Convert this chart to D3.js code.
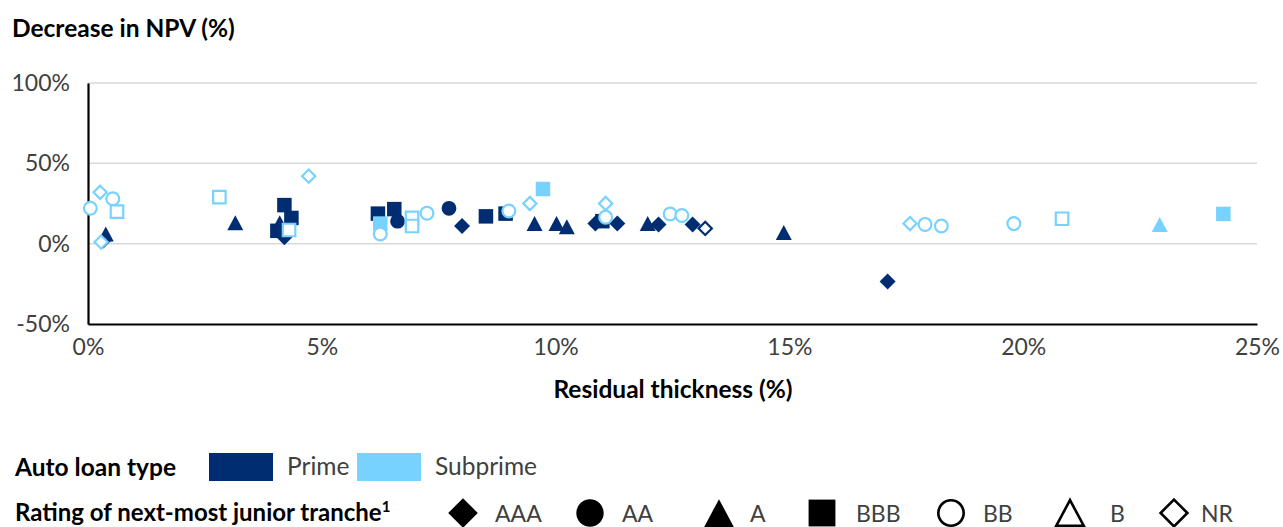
<!DOCTYPE html>
<html>
<head>
<meta charset="utf-8">
<script src="https://cdn.jsdelivr.net/npm/d3@7"></script>
<style>
  html, body { margin: 0; padding: 0; background: #fff; }
  svg { display: block; font-family: Lato, "Open Sans", sans-serif; }
</style>
</head>
<body>
<svg id="chart" width="1283" height="527"></svg>
<script>
// ---- Data (x: residual thickness %, y: decrease in NPV %) ----
const xTicks = [0, 5, 10, 15, 20, 25];
const yTicks = [-50, 0, 50, 100];
const loanTypes = ["Prime", "Subprime"];
const ratings = ["AAA", "AA", "A", "BBB", "BB", "B", "NR"];

const primeAAA = [[0.33, 2], [4.2, 4], [8.0, 11], [10.85, 12.5], [11.32, 12.5], [12.2, 12], [12.93, 12], [17.1, -23.5]];
const primeAA  = [[6.62, 14], [7.72, 22]];
const primeA   = [[0.38, 6], [3.15, 13], [4.1, 13], [9.55, 12.5], [10.02, 12.5], [10.24, 10.6], [11.97, 12.5], [14.88, 7]];
const primeBBB = [[4.2, 24], [4.35, 16], [4.05, 8], [6.2, 18.7], [6.55, 21.5], [8.51, 17], [8.93, 18.7], [11.0, 14]];
const primeNR  = [[13.2, 9.5]];

const subprimeA   = [[22.92, 12]];
const subprimeBBB = [[6.25, 12.5], [9.73, 34], [24.28, 18.5]];
const subprimeBB  = [[0.05, 22], [0.53, 28], [6.25, 6], [7.25, 19], [9.0, 20.3], [11.07, 16.5], [12.45, 18.5], [12.7, 17.5], [17.9, 12], [18.25, 11], [19.8, 12.5]];
const subprimeB   = [[0.62, 20], [2.81, 29], [4.3, 8.5], [6.93, 16], [6.93, 11], [20.83, 15.5]];
const subprimeNR  = [[0.26, 32], [0.28, 1], [4.72, 42], [9.45, 25], [11.07, 25], [17.58, 12.5]];

(function () {
// ---- Styles ----
const colors = { Prime: "#002d72", Subprime: "#78d2ff" };
const seriesList = [
  { data: primeAAA, type: "Prime", shape: "diamond", filled: true },
  { data: primeAA,  type: "Prime", shape: "circle",  filled: true },
  { data: primeA,   type: "Prime", shape: "triangle", filled: true },
  { data: primeBBB, type: "Prime", shape: "square",  filled: true },
  { data: primeNR,  type: "Prime", shape: "diamond", filled: false },
  { data: subprimeA,   type: "Subprime", shape: "triangle", filled: true },
  { data: subprimeBBB, type: "Subprime", shape: "square",  filled: true },
  { data: subprimeBB,  type: "Subprime", shape: "circle",  filled: false },
  { data: subprimeB,   type: "Subprime", shape: "square",  filled: false },
  { data: subprimeNR,  type: "Subprime", shape: "diamond", filled: false }
];

const svg = d3.select("#chart");
const mLeft = 88, mRight = 1257, mTop = 83, mBottom = 324;
const x = d3.scaleLinear().domain([0, 25]).range([mLeft, mRight]);
const y = d3.scaleLinear().domain([-50, 100]).range([mBottom, mTop]);

function symbolPath(shape, k, filled) {
  const shrink = filled ? 0 : 2;
  if (shape === "square") {
    const s = 14.5 * k - shrink; return `M${-s/2},${-s/2}H${s/2}V${s/2}H${-s/2}Z`;
  }
  if (shape === "diamond") {
    const h = 8 * k - shrink * 0.7; return `M0,${-h}L${h},0L0,${h}L${-h},0Z`;
  }
  if (shape === "triangle") {
    const w = 16 * k - shrink, hgt = 15 * k - shrink;
    return `M0,${-hgt/2}L${w/2},${hgt/2}L${-w/2},${hgt/2}Z`;
  }
  const r = 7.4 * k - shrink / 2;
  return `M${r},0A${r},${r},0,1,1,${-r},0A${r},${r},0,1,1,${r},0Z`;
}

// Gridlines
svg.append("g").selectAll("line").data([0, 50, 100]).join("line")
  .attr("x1", mLeft).attr("x2", mRight)
  .attr("y1", d => y(d)).attr("y2", d => y(d))
  .attr("stroke", "#d9d9d9").attr("stroke-width", 1.5);

// Axes
const yAxis = svg.append("g").attr("transform", `translate(${mLeft},0)`)
  .call(d3.axisLeft(y).tickValues(yTicks).tickSize(0).tickSizeOuter(0).tickPadding(18).tickFormat(d => d + "%"));
const xAxis = svg.append("g").attr("transform", `translate(0,${mBottom})`)
  .call(d3.axisBottom(x).tickValues(xTicks).tickSize(0).tickSizeOuter(0).tickPadding(15).tickFormat(d => d + "%"));
[yAxis, xAxis].forEach(g => {
  g.select(".domain").attr("stroke", "#000").attr("stroke-width", 2.2);
  g.selectAll("text").attr("font-family", "Lato, sans-serif").attr("font-size", 23).attr("fill", "#404040");
});

// Points
seriesList.forEach(s => {
  const c = colors[s.type];
  svg.append("g").selectAll("path").data(s.data).join("path")
    .attr("transform", d => `translate(${x(d[0])},${y(d[1])})`)
    .attr("d", symbolPath(s.shape, 1, s.filled))
    .attr("fill", s.filled ? c : "#fff")
    .attr("stroke", c)
    .attr("stroke-width", s.filled ? 0 : 2.2);
});

// Titles
svg.append("text").attr("x", 12).attr("y", 37).text("Decrease in NPV (%)")
  .attr("font-weight", "bold").attr("font-size", 24.5).attr("fill", "#000");
svg.append("text").attr("x", 673).attr("y", 398).attr("text-anchor", "middle")
  .text("Residual thickness (%)").attr("font-weight", "bold").attr("font-size", 24.5).attr("fill", "#000");

// Legend row 1
svg.append("text").attr("x", 15).attr("y", 476).text("Auto loan type")
  .attr("font-weight", "bold").attr("font-size", 24.5).attr("fill", "#000");
const typeLegend = [{ t: loanTypes[0], rx: 209, tx: 287 }, { t: loanTypes[1], rx: 357, tx: 435 }];
typeLegend.forEach(l => {
  svg.append("rect").attr("x", l.rx).attr("y", 453).attr("width", 64).attr("height", 28).attr("fill", colors[l.t]);
  svg.append("text").attr("x", l.tx).attr("y", 475).text(l.t).attr("font-size", 24.5).attr("fill", "#404040");
});

// Legend row 2
const r2 = svg.append("text").attr("x", 15).attr("y", 521).attr("font-weight", "bold").attr("font-size", 24).attr("fill", "#000");
r2.append("tspan").text("Rating of next-most junior tranche");
r2.append("tspan").text("1").attr("font-size", 15).attr("dy", -9);
const ratingLegend = [
  { r: ratings[0], shape: "diamond", filled: true,  sx: 463, tx: 495 },
  { r: ratings[1], shape: "circle",  filled: true,  sx: 590, tx: 622 },
  { r: ratings[2], shape: "triangle", filled: true, sx: 719, tx: 750 },
  { r: ratings[3], shape: "square",  filled: true,  sx: 822, tx: 856 },
  { r: ratings[4], shape: "circle",  filled: false, sx: 951, tx: 983 },
  { r: ratings[5], shape: "triangle", filled: false, sx: 1070, tx: 1110 },
  { r: ratings[6], shape: "diamond", filled: false, sx: 1174, tx: 1201 }
];
ratingLegend.forEach(l => {
  svg.append("path").attr("transform", `translate(${l.sx},513)`)
    .attr("d", symbolPath(l.shape, 1.85, l.filled))
    .attr("fill", l.filled ? "#000" : "#fff").attr("stroke", "#000").attr("stroke-width", l.filled ? 0 : 2.6);
  svg.append("text").attr("x", l.tx).attr("y", 522).text(l.r).attr("font-size", 23).attr("fill", "#404040");
});
})();
</script>
</body>
</html>
